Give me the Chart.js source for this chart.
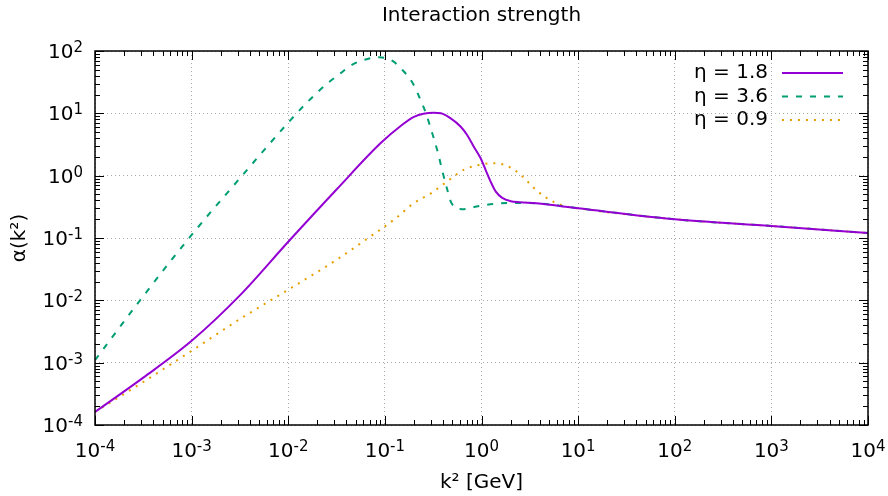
<!DOCTYPE html>
<html>
<head>
<meta charset="utf-8">
<title>Interaction strength</title>
<script src="https://cdn.jsdelivr.net/npm/chart.js@4.4.0/dist/chart.umd.min.js"></script>
<style>
body{margin:0;background:#fff}
</style>
</head>
<body>
<canvas id="chart" width="888" height="496"></canvas>
<script>
// values: k^2 [GeV] and alpha(k^2) for each eta
var k2_18 = [1e-4, 3.16e-4, 1e-3, 3.16e-3, 1e-2, 3.16e-2, 0.09, 0.15, 0.2, 0.32, 0.38, 0.48, 0.61, 0.71, 0.83, 0.98, 1.1, 1.24, 1.4, 1.64, 2.0, 2.5, 3.7, 10, 100, 1000, 10000]
var alpha_18 = [1.62e-4, 5.75e-4, 2.24e-3, 0.012, 0.087, 0.6, 3.3, 6.5, 8.8, 10.2, 10.0, 8.3, 6.1, 4.5, 2.95, 1.9, 1.25, 0.81, 0.56, 0.44, 0.39, 0.375, 0.36, 0.30, 0.20, 0.156, 0.12]

var k2_36 = [1e-4, 3.16e-4, 1e-3, 3.16e-3, 1e-2, 0.0162, 0.0263, 0.0347, 0.0447, 0.0617, 0.087, 0.12, 0.151, 0.195, 0.226, 0.266, 0.302, 0.355, 0.398, 0.442, 0.49, 0.63, 0.89, 1.32, 1.9, 3.7, 10, 100, 1000, 10000]
var alpha_36 = [1.1e-3, 0.0117, 0.112, 0.91, 7.1, 15.8, 31.6, 43.7, 58.9, 72.4, 79.4, 69.2, 50.1, 30.2, 18.6, 10.0, 5.4, 2.3, 1.1, 0.6, 0.36, 0.29, 0.32, 0.35, 0.365, 0.36, 0.30, 0.20, 0.156, 0.12]

var k2_09 = [1e-4, 3.16e-4, 1e-3, 3.16e-3, 1e-2, 3.16e-2, 0.066, 0.126, 0.2, 0.302, 0.442, 0.66, 0.977, 1.29, 1.7, 2.16, 2.75, 3.47, 4.42, 5.62, 7.08, 10, 100, 1000, 10000]
var alpha_09 = [1.62e-4, 4.9e-4, 1.55e-3, 5.0e-3, 0.0148, 0.0447, 0.098, 0.2, 0.363, 0.525, 0.81, 1.25, 1.5, 1.58, 1.5, 1.25, 0.92, 0.64, 0.47, 0.376, 0.33, 0.30, 0.20, 0.156, 0.12]

var seriesNames = ['η = 1.8', 'η = 3.6', 'η = 0.9']
var xTicks = [1e-4, 1e-3, 1e-2, 1e-1, 1, 10, 100, 1000, 10000]
var yTicks = [1e-4, 1e-3, 1e-2, 1e-1, 1, 10, 100]

var FONT = '"DejaVu Sans", sans-serif'

function pts(xs, ys) {
    return xs.map(function(x, i) { return {x: x, y: ys[i]} })
}

function drawPow(ctx, e, x, y, align) {
    var base = '10', sup = String(e)
    ctx.font = '20px ' + FONT
    var wb = ctx.measureText(base).width
    ctx.font = '15px ' + FONT
    var ws = ctx.measureText(sup).width
    var left = align == 'center' ? x - (wb + ws) / 2 : x - wb - ws
    ctx.textAlign = 'left'
    ctx.textBaseline = 'alphabetic'
    ctx.font = '20px ' + FONT
    ctx.fillText(base, left, y)
    ctx.font = '15px ' + FONT
    ctx.fillText(sup, left + wb, y - 6)
}

// gnuplot style frame: box, inward ticks on all sides, labels, legend
var gnuplotLook = {
    id: 'gnuplotLook',
    afterDraw: function(chart) {
        var ctx = chart.ctx, a = chart.chartArea
        var xs = chart.scales.x, ys = chart.scales.y
        ctx.save()
        ctx.strokeStyle = '#000'
        ctx.fillStyle = '#000'
        ctx.lineWidth = 1
        ctx.beginPath()
        for (var d = -4; d <= 4; d++) {
            for (var m = 1; m <= 9; m++) {
                var v = m * Math.pow(10, d)
                if (v > 1.0001e4) break
                var len = m == 1 ? 9 : 5
                var px = Math.round(xs.getPixelForValue(v)) + 0.5
                ctx.moveTo(px, a.bottom); ctx.lineTo(px, a.bottom - len)
                ctx.moveTo(px, a.top); ctx.lineTo(px, a.top + len)
            }
        }
        for (var d = -4; d <= 2; d++) {
            for (var m = 1; m <= 9; m++) {
                var v = m * Math.pow(10, d)
                if (v > 100.01) break
                var len = m == 1 ? 9 : 5
                var py = Math.round(ys.getPixelForValue(v)) + 0.5
                ctx.moveTo(a.left, py); ctx.lineTo(a.left + len, py)
                ctx.moveTo(a.right, py); ctx.lineTo(a.right - len, py)
            }
        }
        ctx.stroke()
        ctx.lineWidth = 1.5
        ctx.strokeRect(a.left, a.top, a.right - a.left, a.bottom - a.top)

        // tick labels
        xs.ticks.forEach(function(t) {
            drawPow(ctx, Math.round(Math.log10(t.value)), xs.getPixelForValue(t.value), 457, 'center')
        })
        ys.ticks.forEach(function(t) {
            drawPow(ctx, Math.round(Math.log10(t.value)), 83, ys.getPixelForValue(t.value) + 7, 'right')
        })

        // titles
        ctx.font = '20px ' + FONT
        ctx.textAlign = 'center'
        ctx.textBaseline = 'middle'
        var cx = (a.left + a.right) / 2
        ctx.fillText('Interaction strength', cx, 16)
        ctx.fillText('k² [GeV]', cx, 483)
        ctx.save()
        ctx.translate(20, (a.top + a.bottom) / 2)
        ctx.rotate(-Math.PI / 2)
        ctx.fillText('α(k²)', 0, 0)
        ctx.restore()

        // legend
        chart.data.datasets.forEach(function(ds, i) {
            var y = 73 + i * 23.5
            ctx.font = '20px ' + FONT
            ctx.textAlign = 'right'
            ctx.textBaseline = 'middle'
            ctx.fillStyle = '#000'
            ctx.fillText(ds.label, 768, y)
            ctx.strokeStyle = ds.borderColor
            ctx.lineWidth = ds.borderWidth
            ctx.setLineDash(ds.borderDash || [])
            ctx.beginPath()
            ctx.moveTo(782, y); ctx.lineTo(843, y)
            ctx.stroke()
            ctx.setLineDash([])
        })
        ctx.restore()
    }
}

var can = document.getElementById('chart')
var config = {
    type: 'line',
    data: {
        datasets: [
            {label: seriesNames[0], data: pts(k2_18, alpha_18), borderColor: '#9400d3', borderWidth: 2},
            {label: seriesNames[1], data: pts(k2_36, alpha_36), borderColor: '#009e73', borderWidth: 2, borderDash: [6, 8]},
            {label: seriesNames[2], data: pts(k2_09, alpha_09), borderColor: '#e69f00', borderWidth: 2, borderDash: [2, 6]}
        ]
    },
    options: {
        responsive: false,
        animation: false,
        devicePixelRatio: 1,
        layout: {padding: {top: 51, right: 20, left: 0, bottom: 0}},
        elements: {
            point: {radius: 0},
            line: {cubicInterpolationMode: 'monotone', fill: false}
        },
        plugins: {legend: {display: false}, title: {display: false}, tooltip: {enabled: false}},
        scales: {
            x: {
                type: 'logarithmic', min: 1e-4, max: 1e4,
                afterBuildTicks: function(s) { s.ticks = xTicks.map(function(v) { return {value: v} }) },
                afterFit: function(s) { s.height = 71 },
                ticks: {display: false},
                grid: {color: '#a8a8a8', lineWidth: 1, drawTicks: false},
                border: {display: false, dash: [1, 3]}
            },
            y: {
                type: 'logarithmic', min: 1e-4, max: 100,
                afterBuildTicks: function(s) { s.ticks = yTicks.map(function(v) { return {value: v} }) },
                afterFit: function(s) { s.width = 95 },
                ticks: {display: false},
                grid: {color: '#a8a8a8', lineWidth: 1, drawTicks: false},
                border: {display: false, dash: [1, 3]}
            }
        }
    },
    plugins: [gnuplotLook]
}
var chart = new Chart(can, config)
</script>
</body>
</html>
